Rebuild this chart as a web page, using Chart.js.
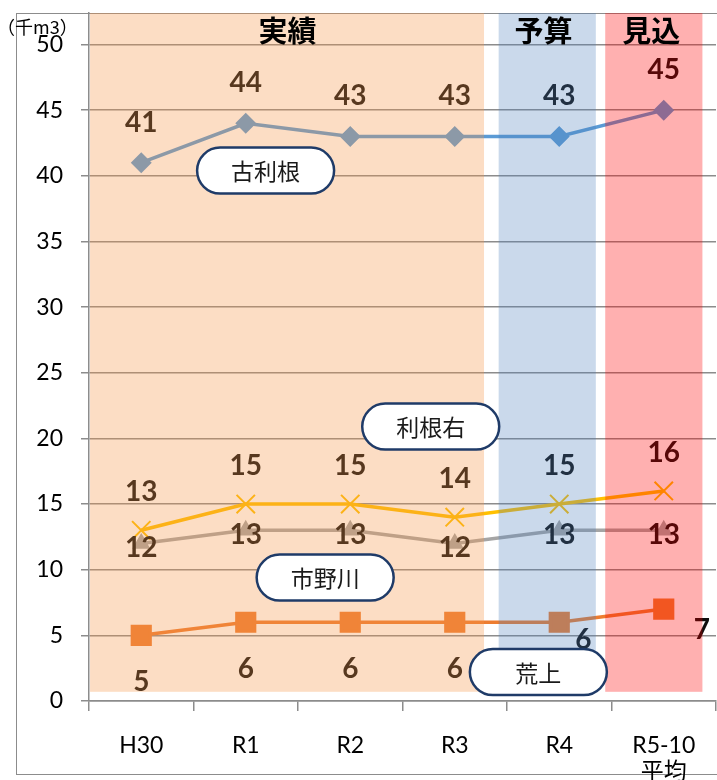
<!DOCTYPE html>
<html>
<head>
<meta charset="utf-8">
<script src="https://cdn.jsdelivr.net/npm/chart.js@4.4.1/dist/chart.umd.min.js"></script>
<style>
  html, body { margin: 0; padding: 0; background: #fff; }
  #wrap { width: 717px; height: 780px; }
</style>
</head>
<body>
<div id="wrap"><canvas id="myChart" width="717" height="780"></canvas></div>
<script>
var labels = ['H30', 'R1', 'R2', 'R3', 'R4', ['R5-10', '平均']];
var furutone = [41, 44, 43, 43, 43, 45];
var toneMigi = [13, 15, 15, 14, 15, 16];
var ichinokawa = [12, 13, 13, 12, 13, 13];
var arakami = [5, 6, 6, 6, 6, 7];
var yTicks = [0, 5, 10, 15, 20, 25, 30, 35, 40, 45, 50];

var JP = '"Noto Sans CJK JP", sans-serif';
var NUM = 'Lato, "Noto Sans CJK JP", sans-serif';
var GRID = '#8c8c8c';

// shaded periods (in category units), drawn as translucent overlays
var bands = [
    {from: -0.49, to: 3.28, color: 'rgba(247,150,70,0.32)', title: '実績', titleAt: 1.40},
    {from: 3.42, to: 4.35, color: 'rgba(79,129,189,0.30)', title: '予算', titleAt: 3.85},
    {from: 4.44, to: 5.37, color: 'rgba(255,0,0,0.31)', title: '見込', titleAt: 4.88}
];
var callouts = [
    {text: '古利根', x: 1.19, y: 40.4},
    {text: '利根右', x: 2.77, y: 20.9},
    {text: '市野川', x: 1.76, y: 9.4},
    {text: '荒上', x: 3.80, y: 2.2}
];

var overlayPlugin = {
    id: 'overlay',
    beforeDraw: function (chart) {
        var ctx = chart.ctx;
        ctx.save();
        ctx.fillStyle = '#fff';
        ctx.fillRect(0, 0, chart.width, chart.height);
        ctx.strokeStyle = GRID;
        ctx.lineWidth = 1;
        ctx.strokeRect(16.5, 13.5, chart.width, 761);
        ctx.restore();
    },
    afterDatasetsDraw: function (chart) {
        var ctx = chart.ctx, xs = chart.scales.x, ys = chart.scales.y, area = chart.chartArea;
        ctx.save();
        // value labels
        ctx.textAlign = 'center';
        ctx.textBaseline = 'middle';
        ctx.font = 'bold 28px ' + NUM;
        ctx.fillStyle = '#0d0d0d';
        chart.data.datasets.forEach(function (ds, di) {
            var meta = chart.getDatasetMeta(di);
            meta.data.forEach(function (pt, i) {
                var off = (ds.labelShift && ds.labelShift[i]) || [0, ds.labelDy];
                ctx.fillText(String(ds.data[i]), pt.x + off[0], pt.y + off[1]);
            });
        });
        // translucent bands
        var bottom = ys.getPixelForValue(0.7);
        bands.forEach(function (b) {
            var x1 = xs.getPixelForValue(b.from), x2 = xs.getPixelForValue(b.to);
            ctx.fillStyle = b.color;
            ctx.fillRect(x1, area.top, x2 - x1, bottom - area.top);
        });
        // period titles
        ctx.fillStyle = '#000';
        ctx.font = 'bold 29px ' + JP;
        bands.forEach(function (b) {
            ctx.fillText(b.title, xs.getPixelForValue(b.titleAt), area.top + 18);
        });
        // callout boxes
        ctx.font = '23px ' + JP;
        callouts.forEach(function (c) {
            var cx = xs.getPixelForValue(c.x), cy = ys.getPixelForValue(c.y);
            var w = 137, h = 46;
            ctx.beginPath();
            ctx.roundRect(cx - w / 2, cy - h / 2, w, h, 23);
            ctx.fillStyle = '#fff';
            ctx.fill();
            ctx.lineWidth = 2.5;
            ctx.strokeStyle = '#1f3b68';
            ctx.stroke();
            ctx.fillStyle = '#1a1a1a';
            ctx.fillText(c.text, cx, cy + 1);
        });
        // unit
        ctx.textAlign = 'left';
        ctx.font = '18px ' + JP;
        ctx.fillStyle = '#000';
        ctx.fillText('（千m3）', -3, 27);
        ctx.restore();
    }
};

var ctx = document.getElementById('myChart');
var chart = new Chart(ctx, {
    type: 'line',
    data: {
        labels: labels,
        datasets: [
            {
                label: '古利根', data: furutone, borderColor: '#5b9bd5', backgroundColor: '#5b9bd5',
                borderWidth: 3.5, pointStyle: 'rectRot', pointRadius: 8, labelDy: -40
            },
            {
                label: '荒上', data: arakami, borderColor: '#ed7d31', backgroundColor: '#ed7d31',
                borderWidth: 3.5, pointStyle: 'rect', pointRadius: 12.5, labelDy: 47,
                labelShift: {4: [24, 18], 5: [38, 21]}
            },
            {
                label: '市野川', data: ichinokawa, borderColor: '#a5a5a5', backgroundColor: '#a5a5a5',
                borderWidth: 3.5, pointStyle: 'triangle', pointRadius: 7, labelDy: 5
            },
            {
                label: '利根右', data: toneMigi, borderColor: '#ffc000', backgroundColor: '#ffc000',
                borderWidth: 3.5, pointStyle: 'crossRot', pointRadius: 13, pointBorderWidth: 2, labelDy: -38
            }
        ]
    },
    options: {
        responsive: false,
        animation: false,
        devicePixelRatio: 1,
        layout: {autoPadding: false, padding: {top: 13, left: 0, right: 1, bottom: 0}},
        plugins: {legend: {display: false}, tooltip: {enabled: false}},
        scales: {
            x: {
                offset: true,
                grid: {offset: true, drawOnChartArea: false, drawTicks: true, tickLength: 10, color: GRID, lineWidth: 1.5},
                border: {color: GRID, width: 1.5},
                ticks: {font: {family: NUM, size: 23, lineHeight: 1.15}, color: '#000', padding: 21, maxRotation: 0},
                afterFit: function (s) {
                    s.height = 79;
                    s.paddingLeft = 0;
                    s.paddingRight = 0;
                }
            },
            y: {
                min: 0,
                max: 52.4,
                grid: {color: GRID, lineWidth: 1.5, tickLength: 8},
                border: {color: GRID, width: 1.5},
                ticks: {font: {family: NUM, size: 23}, color: '#000', padding: 18},
                afterBuildTicks: function (s) {
                    s.ticks = yTicks.map(function (v) { return {value: v}; });
                },
                afterFit: function (s) {
                    s.width = 89;
                    s.paddingTop = 0;
                    s.paddingBottom = 0;
                }
            }
        }
    },
    plugins: [overlayPlugin]
});
</script>
</body>
</html>
